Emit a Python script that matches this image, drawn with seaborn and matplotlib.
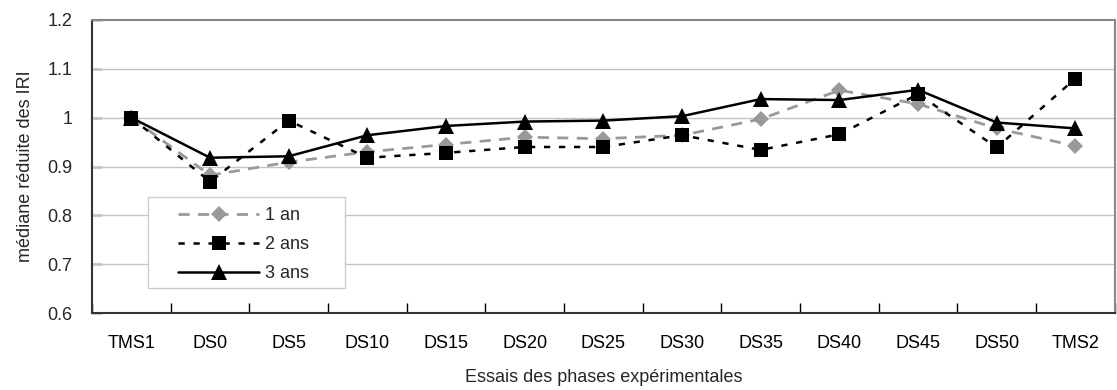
import matplotlib
matplotlib.use("Agg")
import matplotlib.pyplot as plt
import seaborn as sns
import numpy as np
import pandas as pd
from matplotlib.ticker import FixedLocator
from matplotlib.patches import Rectangle

categories = ["TMS1", "DS0", "DS5", "DS10", "DS15", "DS20", "DS25", "DS30",
              "DS35", "DS40", "DS45", "DS50", "TMS2"]
an1 = [1.000, 0.882, 0.909, 0.930, 0.945, 0.960, 0.957, 0.964, 0.997, 1.056, 1.028, 0.978, 0.942]
ans2 = [1.000, 0.869, 0.994, 0.918, 0.928, 0.940, 0.940, 0.964, 0.934, 0.966, 1.048, 0.939, 1.080]
ans3 = [1.000, 0.918, 0.921, 0.964, 0.983, 0.992, 0.994, 1.003, 1.038, 1.036, 1.057, 0.990, 0.978]
series_names = ["1 an", "2 ans", "3 ans"]
yticks = [0.6, 0.7, 0.8, 0.9, 1.0, 1.1, 1.2]
ytick_labels = ["0.6", "0.7", "0.8", "0.9", "1", "1.1", "1.2"]

sns.set_style("white")
plt.rcParams["font.family"] = ["Liberation Sans", "DejaVu Sans"]
FS = 13
plt.rcParams["font.size"] = FS

fig = plt.figure(figsize=(11.17, 3.90), dpi=100)
ax = fig.add_axes([0.0824, 0.197, 0.9156, 0.752])

pos = np.arange(len(categories))
styles = [
    dict(color="#999999", marker="D", markersize=8, linestyle=(0, (4, 3)), linewidth=2.0),
    dict(color="black", marker="s", markersize=10.5, linestyle=(0, (2.5, 3.5)), linewidth=1.8),
    dict(color="black", marker="^", markersize=11, linestyle="-", linewidth=1.8),
]
for name, vals, st in zip(series_names, [an1, ans2, ans3], styles):
    df = pd.DataFrame({"x": pos, "y": vals})
    sns.lineplot(data=df, x="x", y="y", ax=ax, label=name, sort=False,
                 markeredgewidth=0, zorder=3, **st)

ax.set_xlim(-0.5, len(categories) - 0.5)
ax.set_ylim(0.6, 1.2)
ax.set_xticks(pos)
ax.set_xticklabels(categories)
ax.xaxis.set_minor_locator(FixedLocator(np.arange(-0.5, len(categories), 1.0)))
ax.tick_params(axis="x", which="major", length=0, pad=16, labelsize=FS, colors="black")
ax.tick_params(axis="x", which="minor", length=7, direction="in", width=1, color="black", bottom=True)
ax.set_yticks(yticks)
ax.set_yticklabels(ytick_labels)
ax.tick_params(axis="y", which="major", length=7, direction="in", width=1, pad=14,
               labelsize=FS, left=True, color="black")

for yv in [0.7, 0.8, 0.9, 1.0, 1.1]:
    ax.axhline(yv, color="#c4c4c4", linewidth=1.0, zorder=1)

ax.set_xlabel("Essais des phases expérimentales", fontsize=FS, labelpad=12)
ax.set_ylabel("médiane réduite des IRI", fontsize=FS, labelpad=10)

for side in ["left", "bottom"]:
    ax.spines[side].set_color("#333333")
    ax.spines[side].set_linewidth(1.5)
for side in ["top", "right"]:
    ax.spines[side].set_color("#888888")
    ax.spines[side].set_linewidth(1.5)

# legend frame drawn separately (Excel-like padding)
frame = Rectangle((0.0547, 0.085), 0.1925, 0.310, transform=ax.transAxes,
                  facecolor="white", edgecolor="#cccccc", linewidth=1.0, zorder=4)
ax.add_patch(frame)
leg = ax.legend(loc="upper left", bbox_to_anchor=(0.084, 0.362), frameon=False,
                fontsize=FS, handlelength=4.5, handletextpad=0.3, labelspacing=0.66,
                borderpad=0, borderaxespad=0)
leg.set_zorder(5)

fig.savefig("out.png", dpi=100)
